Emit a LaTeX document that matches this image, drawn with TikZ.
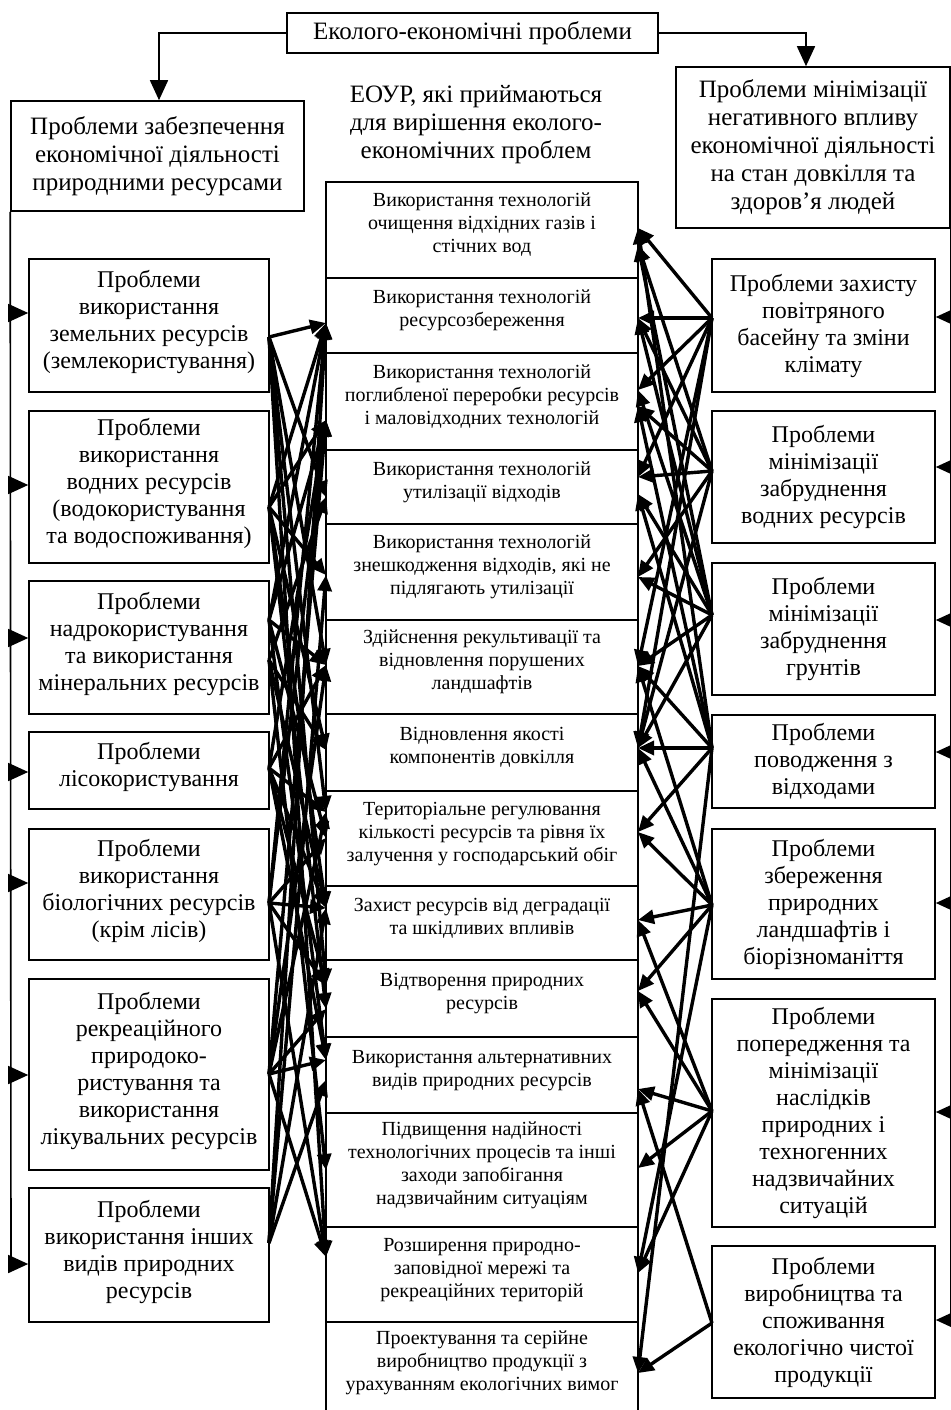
\documentclass[tikz,border=0pt]{standalone}
\usepackage{fontspec}
\setmainfont{Liberation Serif}
\usetikzlibrary{arrows.meta}
\begin{document}
\begin{tikzpicture}[x=0.5pt,y=-0.5pt,
  box/.style={draw,line width=0.8pt,inner sep=1pt,align=center},
  sidefont/.style={font=\fontsize{12}{13.5}\selectfont},
  midfont/.style={font=\fontsize{10}{11.5}\selectfont},
  lbox/.style={box,sidefont,minimum width=120pt,text depth=6pt},
  rbox/.style={box,sidefont,minimum width=111.5pt},
  mbox/.style={box,midfont,minimum width=156pt,text depth=7pt},
  bigarr/.style={line width=0.8pt,-{Triangle[length=10pt,width=9pt]}},
  conn/.style={line width=1.7pt,-{Triangle[length=8pt,width=7pt]}},
  plain/.style={line width=0.8pt}]
\useasboundingbox (0,0) rectangle (950,1410);

% top level
\node[box,font=\fontsize{12.5}{14}\selectfont,minimum width=185.5pt,minimum height=20pt] (top) at (472.5,33) {Еколого-економічні проблеми};
\node[box,font=\fontsize{12.5}{14}\selectfont,minimum width=146.5pt,minimum height=55pt] (LT) at (157.5,156) {Проблеми забезпечення\\економічної діяльності\\природними ресурсами};
\node[box,font=\fontsize{12.5}{14}\selectfont,minimum width=137pt,minimum height=80.5pt] (RT) at (813,147.5) {Проблеми мінімізації\\негативного впливу\\економічної діяльності\\на стан довкілля та\\здоров'я людей};
\node[align=center,font=\fontsize{12.5}{14}\selectfont] (title) at (476,125) {ЕОУР, які приймаються\\для вирішення еколого-\\економічних проблем};

\coordinate (tl) at (159,33);
\coordinate (tr) at (806,33);
\draw[bigarr] (top.west) -- (tl) -- (tl |- LT.north);
\draw[bigarr] (top.east) -- (tr) -- (tr |- RT.north);

% middle column
\node[mbox,minimum height=48pt] (M1) at (482,230) {Використання технологій\\очищення відхідних газів і\\стічних вод};
\node[mbox,minimum height=37.5pt] (M2) at (482,315.5) {Використання технологій\\ресурсозбереження};
\node[mbox,minimum height=48.5pt] (M3) at (482,401.5) {Використання технологій\\поглибленої переробки ресурсів\\і маловідходних технологій};
\node[mbox,minimum height=37pt] (M4) at (482,487) {Використання технологій\\утилізації відходів};
\node[mbox,minimum height=48pt] (M5) at (482,572) {Використання технологій\\знешкодження відходів, які не\\підлягають утилізації};
\node[mbox,minimum height=47pt] (M6) at (482,667) {Здійснення рекультивації та\\відновлення порушених\\ландшафтів};
\node[mbox,minimum height=38.5pt] (M7) at (482,752.5) {Відновлення якості\\компонентів довкілля};
\node[mbox,minimum height=47.5pt] (M8) at (482,838.5) {Територіальне регулювання\\кількості ресурсів та рівня їх\\залучення у господарський обіг};
\node[mbox,minimum height=37pt] (M9) at (482,923) {Захист ресурсів від деградації\\та шкідливих впливів};
\node[mbox,minimum height=38.5pt] (M10) at (482,998.5) {Відтворення природних\\ресурсів};
\node[mbox,minimum height=38pt] (M11) at (482,1075) {Використання альтернативних\\видів природних ресурсів};
\node[mbox,minimum height=57pt] (M12) at (482,1170) {Підвищення надійності\\технологічних процесів та інші\\заходи запобігання\\надзвичайним ситуаціям};
\node[mbox,minimum height=47.5pt] (M13) at (482,1274.5) {Розширення природно-\\заповідної мережі та\\рекреаційних територій};
\node[mbox,minimum height=46pt] (M14) at (482,1368) {Проектування та серійне\\виробництво продукції з\\урахуванням екологічних вимог};

% left column
\node[lbox,minimum height=66.5pt] (L1) at (149,325.5) {Проблеми\\використання\\земельних ресурсів\\(землекористування)};
\node[lbox,minimum height=76pt] (L2) at (149,487) {Проблеми\\використання\\водних ресурсів\\(водокористування\\та водоспоживання)};
\node[lbox,minimum height=66.5pt] (L3) at (149,647.5) {Проблеми\\надрокористування\\та використання\\мінеральних ресурсів};
\node[lbox,minimum height=38.5pt] (L4) at (149,770.5) {Проблеми\\лісокористування};
\node[lbox,minimum height=65.5pt] (L5) at (149,894.5) {Проблеми\\використання\\біологічних ресурсів\\(крім лісів)};
\node[lbox,minimum height=95.5pt] (L6) at (149,1074.5) {Проблеми\\рекреаційного\\природоко-\\ристування та\\використання\\лікувальних ресурсів};
\node[lbox,minimum height=67pt] (L7) at (149,1255) {Проблеми\\використання інших\\видів природних\\ресурсів};

% right column
\node[rbox,minimum height=66.5pt] (R1) at (823.5,325.5) {Проблеми захисту\\повітряного\\басейну та зміни\\клімату};
\node[rbox,minimum height=66pt] (R2) at (823.5,477) {Проблеми\\мінімізації\\забруднення\\водних ресурсів};
\node[rbox,minimum height=66pt] (R3) at (823.5,629) {Проблеми\\мінімізації\\забруднення\\грунтів};
\node[rbox,minimum height=46.5pt] (R4) at (823.5,761.5) {Проблеми\\поводження з\\відходами};
\node[rbox,minimum height=75pt] (R5) at (823.5,904) {Проблеми\\збереження\\природних\\ландшафтів і\\біорізноманіття};
\node[rbox,minimum height=114pt] (R6) at (823.5,1113) {Проблеми\\попередження та\\мінімізації\\наслідків\\природних і\\техногенних\\надзвичайних\\ситуацій};
\node[rbox,minimum height=76pt] (R7) at (823.5,1322) {Проблеми\\виробництва та\\споживання\\екологічно чистої\\продукції};

% left bus
\coordinate (lb) at (11,1264);
\draw[plain] (LT.south west) -- (lb);
\foreach \y/\b in {313/L1,485/L2,638/L3,772/L4,883/L5,1075/L6,1264/L7}{
  \coordinate (la) at (11,\y);
  \draw[bigarr] (la) -- (la -| \b.west);
}
% right bus (at the very edge of the picture)
\coordinate (rb) at (951,1320);
\coordinate (rt) at (951,228);
\draw[plain] (rt) -- (rb);
\foreach \y/\b in {317/R1,467/R2,620/R3,752/R4,903/R5,1112/R6,1320/R7}{
  \coordinate (ra) at (951,\y);
  \draw[bigarr] (ra) -- (ra -| \b.east);
}

% left mesh: sources on left boxes, targets on middle boxes
\coordinate (s1) at (269,337);
\coordinate (s2) at (269,507);
\coordinate (s3) at (269,620);
\coordinate (s3b) at (269,660);
\coordinate (s4) at (269,768);
\coordinate (s5) at (269,903);
\coordinate (s6) at (269,1074);
\coordinate (s7) at (269,1243);
\coordinate (t2) at (326,323);
\coordinate (t3) at (326,420);
\coordinate (t4) at (326,497);
\coordinate (t5) at (326,575);
\coordinate (t6) at (326,665);
\coordinate (t7) at (326,750);
\coordinate (t8) at (326,812);
\coordinate (t8b) at (326,838);
\coordinate (t9) at (326,908);
\coordinate (t10) at (326,985);
\coordinate (t10b) at (326,1009);
\coordinate (t11) at (326,1060);
\coordinate (t11b) at (326,1080);
\coordinate (t12) at (326,1170);
\coordinate (t13) at (326,1257);
\foreach \s/\t in {s1/t2,s1/t4,s1/t6,s1/t8,s1/t10,s1/t13,
  s2/t2,s2/t3,s2/t5,s2/t7,s2/t9,s2/t10b,
  s3/t2,s3/t3,s3/t6,s3/t8b,s3/t11,
  s3b/t4,s3b/t7,s3b/t9,s3b/t12,
  s4/t3,s4/t6,s4/t8,s4/t9,s4/t10,s4/t11,
  s5/t2,s5/t3,s5/t8b,s5/t9,s5/t10,s5/t13,
  s6/t3,s6/t6,s6/t8,s6/t10b,s6/t11,s6/t13,
  s7/t2,s7/t5,s7/t9,s7/t11b}{
  \draw[conn] (\s) -- (\t);
}

% right mesh
\coordinate (r1) at (712,318);
\coordinate (r2) at (712,471);
\coordinate (r3) at (712,615);
\coordinate (r4) at (712,748);
\coordinate (r5) at (712,905);
\coordinate (r6) at (712,1111);
\coordinate (r7) at (712,1323);
\coordinate (u1) at (638,228);
\coordinate (u1b) at (638,245);
\coordinate (u2) at (638,318);
\coordinate (u3) at (638,390);
\coordinate (u3b) at (638,406);
\coordinate (u4) at (638,477);
\coordinate (u4b) at (638,494);
\coordinate (u5) at (638,577);
\coordinate (u6) at (638,666);
\coordinate (u7) at (638,748);
\coordinate (u8) at (638,832);
\coordinate (u9) at (638,920);
\coordinate (u10) at (638,991);
\coordinate (u11) at (638,1089);
\coordinate (u12) at (638,1168);
\coordinate (u13) at (638,1273);
\coordinate (u14) at (638,1373);
\foreach \s/\t in {r1/u1,r1/u2,r1/u3,r1/u4,r1/u6,r1/u7,
  r2/u1b,r2/u2,r2/u3b,r2/u4,r2/u5,r2/u7,
  r3/u1b,r3/u2,r3/u3,r3/u4b,r3/u5,r3/u6,r3/u7,
  r4/u1,r4/u3b,r4/u4b,r4/u6,r4/u7,r4/u8,r4/u14,
  r5/u6,r5/u7,r5/u8,r5/u9,r5/u10,r5/u13,
  r6/u9,r6/u10,r6/u11,r6/u12,r6/u13,
  r7/u11,r7/u14}{
  \draw[conn] (\s) -- (\t);
}
\end{tikzpicture}
\end{document}
